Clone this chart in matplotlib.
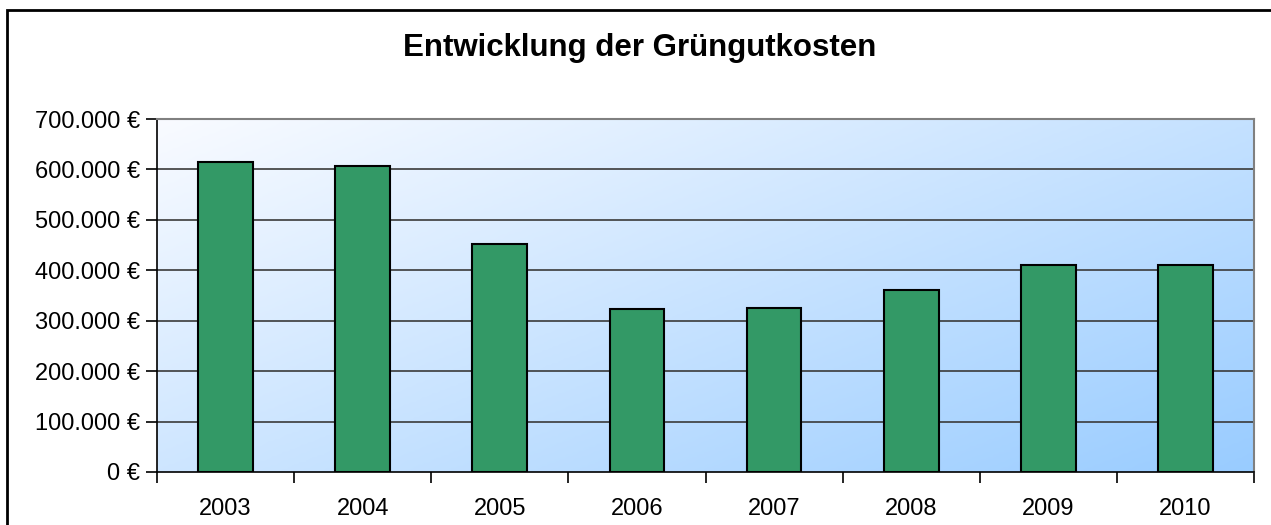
import matplotlib.pyplot as plt
import numpy as np
from matplotlib.colors import LinearSegmentedColormap
from matplotlib.ticker import FuncFormatter
from matplotlib.patches import Rectangle

plt.rcParams['font.family'] = ['Liberation Sans', 'DejaVu Sans']

years = ['2003', '2004', '2005', '2006', '2007', '2008', '2009', '2010']
kosten = [614000, 606000, 452000, 323000, 326000, 361000, 410000, 410000]

fig = plt.figure(figsize=(12.71, 5.25), dpi=100)
ax = fig.add_axes([157/1271, 1 - 472/525, (1254 - 157)/1271, (472 - 119)/525])

# outer chart border (only top and left visible in the crop)
fig.add_artist(Rectangle((7/1271, -0.1), 1.2, 1 - 10/525 + 0.1, transform=fig.transFigure,
                         fill=False, edgecolor='black', linewidth=2, clip_on=False))

x = np.arange(len(years))
ax.set_xlim(-0.5, len(years) - 0.5)
ax.set_ylim(0, 700000)

# gradient background: light top-left to blue bottom-right
cmap = LinearSegmentedColormap.from_list('bg', ['#f9fbff', '#99ccff'])
gx, gy = np.meshgrid(np.linspace(0, 1, 300), np.linspace(0, 1, 150))
grad = (gx * 0.55 + gy * 0.45)
ax.imshow(grad, cmap=cmap, extent=[-0.5, len(years) - 0.5, 0, 700000], aspect='auto',
          origin='upper', zorder=0, interpolation='bilinear')

for v in range(100000, 700000, 100000):
    ax.axhline(v, color='#3a3a3a', linewidth=1.2, zorder=1)

ax.bar(x, kosten, width=0.4, color='#339966', edgecolor='black', linewidth=1.5, zorder=2)

ax.set_xticks(np.arange(-0.5, len(years), 1.0))
ax.set_xticks(x, minor=True)
ax.set_xticklabels([])
ax.set_xticklabels(years, minor=True, fontsize=17)
ax.tick_params(axis='x', which='major', length=8, width=1.2, direction='out')
ax.tick_params(axis='x', which='minor', length=0, pad=19)

ax.set_yticks(range(0, 700001, 100000))
ax.yaxis.set_major_formatter(FuncFormatter(lambda v, p: '{:,.0f} €'.format(v).replace(',', '.')))
ax.tick_params(axis='y', length=8, width=1.2, labelsize=17, pad=4)

for side in ['left', 'bottom']:
    ax.spines[side].set_color('black')
    ax.spines[side].set_linewidth(1.2)
for side in ['top', 'right']:
    ax.spines[side].set_color('#808080')
    ax.spines[side].set_linewidth(1.5)

fig.text(640/1271, 1 - 48/525, 'Entwicklung der Grüngutkosten', ha='center', va='center',
         fontsize=22.5, fontweight='bold')

fig.savefig('out.png', dpi=100)
